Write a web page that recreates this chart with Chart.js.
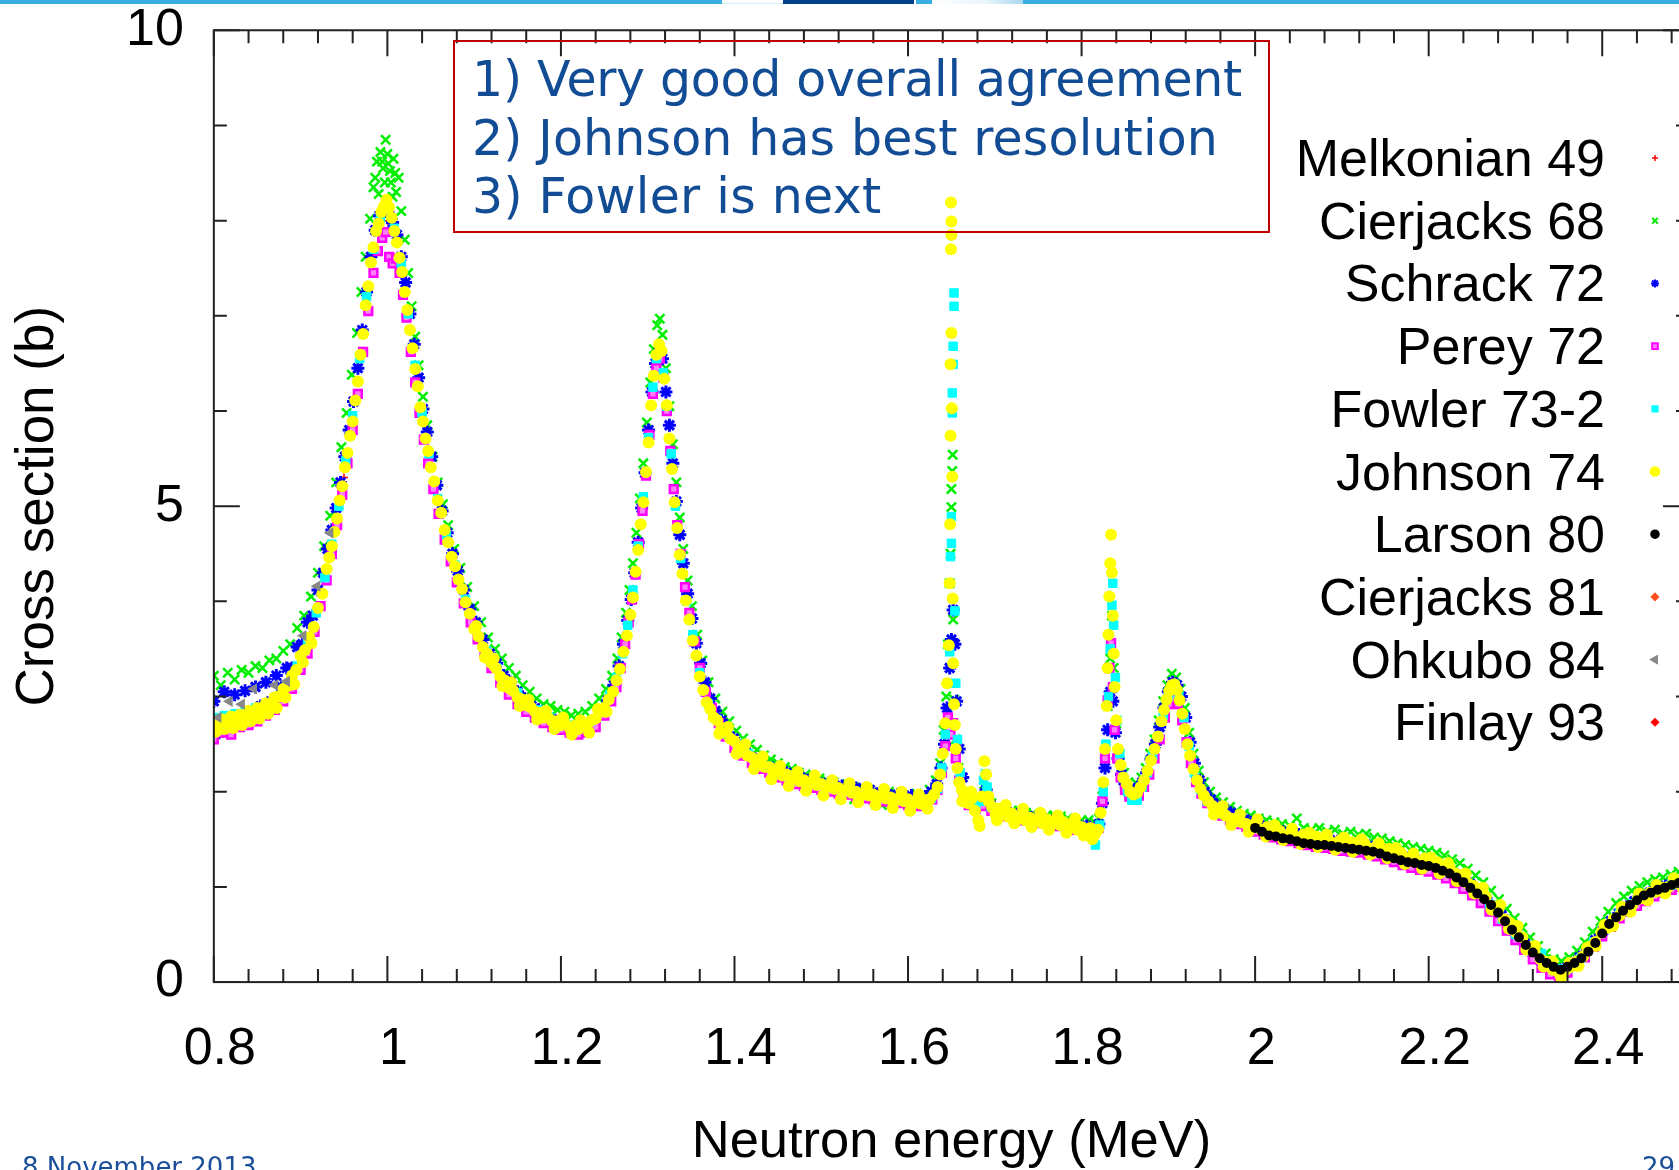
<!DOCTYPE html>
<html>
<head>
<meta charset="utf-8">
<title>Total cross section</title>
<script src="https://cdn.jsdelivr.net/npm/chart.js@4.4.0/dist/chart.umd.min.js"></script>
<style>
  html, body { margin: 0; padding: 0; background: #fff; overflow: hidden; }
  #page { position: relative; width: 1679px; height: 1170px; overflow: hidden; background: #fff; }
  #chart { position: absolute; left: 0; top: 0; }
  .bar { position: absolute; top: 0; height: 4px; }
  #note { position: absolute; left: 453px; top: 40px; width: 817px; height: 193px; box-sizing: border-box; border: 2px solid #c00000; }
  .line { position: absolute; left: 17px; font-family: "DejaVu Sans", Verdana, sans-serif; font-size: 49px; line-height: 58px; color: #124c94; white-space: nowrap; }
  .foot { position: absolute; top: 1154px; font-family: "DejaVu Sans", Verdana, sans-serif; font-size: 26px; line-height: 26px; color: #1b4f9a; white-space: nowrap; }
</style>
</head>
<body>
<div id="page">
  <canvas id="chart" width="1700" height="1200"></canvas>

  <div class="bar" style="left:0;width:722px;background:#3aaee0"></div>
  <div class="bar" style="left:722px;width:61px;background:linear-gradient(#fff 55%,#cdeaf7)"></div>
  <div class="bar" style="left:783px;width:131px;background:#00418e"></div>
  <div class="bar" style="left:916px;width:16px;background:#3aaee0"></div>
  <div class="bar" style="left:932px;width:91px;background:linear-gradient(to right,#fff,#e8f5fb 60%,#a8d9ef)"></div>
  <div class="bar" style="left:1023px;width:656px;background:#3aaee0"></div>

  <div id="note">
    <div class="line" style="top:9px;letter-spacing:-0.3px">1) Very good overall agreement</div>
    <div class="line" style="top:68px;letter-spacing:0.15px">2) Johnson has best resolution</div>
    <div class="line" style="top:126px;letter-spacing:0.25px">3) Fowler is next</div>
  </div>

  <div class="foot" style="left:22px">8 November 2013</div>
  <div class="foot" style="left:1642px">29</div>
</div>

<script>
var FONT = '"Liberation Sans", Arial, sans-serif';

// axis ticks
var xTickValues = [0.8, 1.0, 1.2, 1.4, 1.6, 1.8, 2.0, 2.2, 2.4];
var xTickText = ['0.8', '1', '1.2', '1.4', '1.6', '1.8', '2', '2.2', '2.4'];
var yTickValues = [0, 5, 10];
var yTickText = ['0', '5', '10'];

// ---- data (neutron energy in MeV, cross section in b) ----
var melkonianE = [0.850, 0.950, 1.000, 1.050, 1.150, 1.310, 1.450, 1.600, 1.900, 2.100];
var melkonianS = [2.85, 5.30, 8.00, 5.40, 3.00, 6.50, 2.20, 1.90, 3.00, 1.44];

var cierjacks68E = [
  0.800,0.808,0.816,0.824,0.832,0.840,0.848,0.856,0.864,0.872,
  0.880,0.888,0.896,0.904,0.912,0.920,0.927,0.934,0.941,0.947,
  0.953,0.959,0.965,0.970,0.975,0.980,0.984,0.988,0.992,0.995,
  0.998,1.001,1.004,1.007,1.010,1.013,1.016,1.020,1.024,1.028,
  1.032,1.036,1.041,1.046,1.052,1.058,1.064,1.070,1.077,1.084,
  1.092,1.100,1.108,1.116,1.124,1.132,1.140,1.148,1.156,1.164,
  1.172,1.180,1.188,1.196,1.204,1.212,1.220,1.228,1.236,1.244,
  1.252,1.259,1.265,1.270,1.275,1.279,1.283,1.287,1.291,1.295,
  1.299,1.303,1.307,1.311,1.314,1.317,1.321,1.325,1.329,1.333,
  1.337,1.341,1.346,1.351,1.357,1.363,1.370,1.378,1.386,1.394,
  1.402,1.410,1.418,1.426,1.434,1.442,1.450,1.458,1.466,1.474,
  1.482,1.490,1.498,1.506,1.514,1.522,1.530,1.538,1.546,1.554,
  1.562,1.570,1.578,1.586,1.594,1.602,1.610,1.618,1.625,1.632,
  1.637,1.641,1.644,1.646,1.648,1.649,1.650,1.650,1.651,1.6515,
  1.652,1.653,1.655,1.658,1.662,1.667,1.673,1.680,1.688,1.696,
  1.704,1.712,1.720,1.728,1.736,1.744,1.752,1.760,1.768,1.776,
  1.784,1.792,1.800,1.808,1.815,1.820,1.824,1.827,1.830,1.833,
  1.835,1.837,1.840,1.844,1.849,1.854,1.859,1.864,1.869,1.874,
  1.879,1.884,1.889,1.894,1.899,1.904,1.909,1.914,1.919,1.924,
  1.929,1.935,1.941,1.948,1.955,1.963,1.971,1.979,1.987,1.995,
  2.004,2.013,2.022,2.031,2.040,2.048,2.056,2.065,2.074,2.083,
  2.092,2.101,2.110,2.119,2.128,2.137,2.146,2.155,2.164,2.173,
  2.182,2.191,2.200,2.209,2.218,2.227,2.236,2.245,2.254,2.263,
  2.272,2.281,2.290,2.299,2.308,2.317,2.326,2.335,2.344,2.353,
  2.362,2.371,2.380,2.389,2.398,2.407,2.416,2.425,2.434,2.443,
  2.452,2.461,2.470,2.479,2.488,2.497,
  0.986,0.990,0.994,0.997,1.000,1.003,1.006,1.009
];
var cierjacks68S = [
  3.22,3.12,3.25,3.18,3.28,3.25,3.32,3.30,3.38,3.40,
  3.48,3.55,3.72,3.85,4.05,4.30,4.58,4.90,5.25,5.62,
  5.98,6.38,6.82,7.25,7.62,8.02,8.35,8.62,8.72,8.55,
  8.85,8.60,8.40,8.65,8.30,8.45,8.10,7.80,7.45,7.10,
  6.78,6.48,6.15,5.85,5.52,5.25,5.02,4.80,4.55,4.35,
  4.15,3.95,3.78,3.62,3.50,3.40,3.30,3.22,3.12,3.05,
  2.98,2.92,2.90,2.86,2.84,2.80,2.82,2.84,2.90,2.98,
  3.08,3.22,3.40,3.62,3.88,4.12,4.40,4.72,5.08,5.45,
  5.88,6.30,6.65,6.90,6.97,6.80,6.45,6.05,5.65,5.25,
  4.88,4.55,4.22,3.95,3.65,3.38,3.15,2.98,2.84,2.74,
  2.64,2.56,2.50,2.44,2.38,2.34,2.30,2.26,2.24,2.20,
  2.18,2.15,2.14,2.12,2.10,2.05,2.08,1.92,2.05,2.02,
  1.98,1.86,2.00,1.98,1.97,1.96,1.98,1.97,2.02,2.12,
  2.30,2.65,3.00,3.55,4.19,4.50,4.99,5.18,5.37,5.54,
  3.81,2.97,2.55,2.25,2.08,1.98,1.94,1.90,2.00,1.88,
  1.84,1.82,1.80,1.80,1.78,1.77,1.76,1.75,1.75,1.74,
  1.72,1.71,1.70,1.70,1.68,1.72,1.95,2.40,2.90,3.40,
  3.85,3.30,2.72,2.40,2.20,2.10,2.06,2.08,2.15,2.25,
  2.40,2.55,2.75,2.95,3.12,3.24,3.20,3.08,2.88,2.62,
  2.40,2.22,2.10,2.00,1.94,1.89,1.84,1.80,1.77,1.75,
  1.72,1.70,1.68,1.66,1.64,1.72,1.62,1.60,1.62,1.58,
  1.60,1.56,1.58,1.55,1.56,1.52,1.51,1.48,1.46,1.44,
  1.42,1.40,1.38,1.36,1.33,1.29,1.25,1.19,1.12,1.05,
  0.96,0.87,0.77,0.67,0.57,0.47,0.38,0.30,0.24,0.22,
  0.26,0.33,0.42,0.53,0.64,0.74,0.83,0.90,0.96,1.01,
  1.05,1.08,1.10,1.13,1.16,1.18,
  8.45,8.28,8.62,8.40,8.70,8.52,8.25,8.50
];

var schrackE = [
  0.800,0.806,0.812,0.818,0.824,0.830,0.836,0.842,0.848,0.854,
  0.860,0.866,0.872,0.878,0.884,0.890,0.896,0.902,0.908,0.914,
  0.920,0.926,0.931,0.936,0.941,0.946,0.951,0.956,0.961,0.966,
  0.971,0.976,0.981,0.986,0.991,0.996,1.001,1.006,1.011,1.016,
  1.021,1.026,1.031,1.036,1.041,1.046,1.051,1.057,1.063,1.069,
  1.075,1.081,1.088,1.095,1.102,1.110,1.118,1.126,1.134,1.142,
  1.150,1.158,1.166,1.174,1.182,1.190,1.198,1.206,1.214,1.222,
  1.230,1.238,1.246,1.254,1.261,1.267,1.272,1.277,1.281,1.285,
  1.289,1.293,1.297,1.301,1.305,1.309,1.313,1.317,1.321,1.325,
  1.329,1.333,1.337,1.341,1.346,1.351,1.356,1.361,1.366,1.372,
  1.378,1.385,1.392,1.399,1.406,1.413,1.420,1.428,1.436,1.444,
  1.452,1.460,1.468,1.476,1.484,1.492,1.500,1.508,1.516,1.524,
  1.532,1.540,1.548,1.556,1.564,1.572,1.580,1.588,1.596,1.604,
  1.612,1.620,1.627,1.633,1.638,1.642,1.645,1.648,1.650,1.652,
  1.654,1.656,1.659,1.663,1.668,1.674,1.680,1.686,1.690,1.695,
  1.702,1.710,1.718,1.726,1.734,1.742,1.750,1.758,1.766,1.774,
  1.782,1.790,1.798,1.806,1.814,1.820,1.824,1.827,1.830,1.833,
  1.836,1.839,1.842,1.846,1.850,1.855,1.860,1.865,1.870,1.875,
  1.880,1.885,1.890,1.895,1.900,1.905,1.910,1.915,1.920,1.925,
  1.930,1.936,1.942,1.949,1.956,1.964,1.972,1.980,1.988,1.996,
  2.005,2.014,2.023,2.032,2.041,2.050,2.059,2.068,2.077,2.086,
  2.095,2.104,2.113,2.122,2.131,2.140,2.149,2.158,2.167,2.176,
  2.185,2.194,2.203,2.212,2.221,2.230,2.239,2.248,2.257,2.266,
  2.275,2.284,2.293,2.302,2.311,2.320,2.329,2.338,2.347,2.356,
  2.365,2.374,2.383,2.392,2.401,2.410,2.419,2.428,2.437,2.446,
  2.455,2.464,2.473,2.482,2.491,2.500
];
var schrackS = [
  2.95,2.62,3.05,2.70,3.02,2.78,3.06,2.82,3.10,2.90,
  3.15,2.95,3.22,3.10,3.30,3.30,3.52,3.55,3.78,3.85,
  4.12,4.30,4.55,4.75,4.98,5.25,5.52,5.80,6.10,6.45,
  6.85,7.25,7.62,7.90,8.05,8.12,8.08,7.98,7.85,7.62,
  7.35,7.02,6.70,6.35,6.02,5.78,5.52,5.22,4.95,4.72,
  4.50,4.32,4.12,3.92,3.78,3.60,3.45,3.35,3.22,3.15,
  3.05,2.98,2.90,2.86,2.80,2.76,2.72,2.66,2.62,2.63,
  2.68,2.74,2.84,2.96,3.12,3.32,3.55,3.80,4.02,4.30,
  4.62,4.98,5.35,5.80,6.20,6.50,6.62,6.55,6.20,5.85,
  5.45,5.05,4.70,4.40,4.08,3.82,3.56,3.35,3.15,2.98,
  2.85,2.75,2.62,2.56,2.48,2.42,2.36,2.33,2.27,2.25,
  2.21,2.20,2.16,2.15,2.12,2.12,2.08,2.09,2.05,2.06,
  2.02,2.04,2.00,2.02,1.98,1.99,1.96,1.97,1.94,1.96,
  1.93,1.95,2.00,2.08,2.25,2.50,2.88,3.30,3.60,3.91,
  3.55,2.95,2.45,2.15,1.98,1.90,1.86,1.92,2.02,1.86,
  1.80,1.79,1.77,1.76,1.74,1.73,1.72,1.71,1.69,1.69,
  1.66,1.67,1.64,1.64,1.60,1.66,1.88,2.25,2.65,3.05,
  2.95,2.62,2.35,2.18,2.08,2.02,2.00,2.04,2.10,2.20,
  2.34,2.50,2.68,2.88,3.05,3.15,3.12,3.00,2.78,2.52,
  2.30,2.12,2.00,1.92,1.86,1.82,1.78,1.74,1.71,1.68,
  1.65,1.62,1.60,1.58,1.57,1.55,1.53,1.52,1.50,1.49,
  1.48,1.47,1.46,1.44,1.43,1.41,1.38,1.36,1.33,1.30,
  1.28,1.26,1.24,1.21,1.18,1.14,1.09,1.03,0.96,0.88,
  0.79,0.70,0.60,0.50,0.40,0.31,0.23,0.17,0.13,0.14,
  0.19,0.26,0.34,0.44,0.54,0.64,0.72,0.79,0.85,0.90,
  0.94,0.98,1.01,1.04,1.07,1.09
];

var pereyE = [
  0.800,0.810,0.820,0.830,0.840,0.850,0.860,0.870,0.880,0.890,
  0.900,0.908,0.916,0.923,0.930,0.936,0.942,0.948,0.954,0.960,
  0.966,0.972,0.978,0.984,0.989,0.994,0.998,1.002,1.006,1.010,
  1.014,1.018,1.022,1.027,1.032,1.037,1.042,1.047,1.053,1.059,
  1.066,1.073,1.080,1.088,1.096,1.104,1.112,1.120,1.130,1.140,
  1.150,1.160,1.170,1.180,1.190,1.200,1.210,1.220,1.230,1.240,
  1.250,1.258,1.264,1.269,1.274,1.278,1.282,1.286,1.290,1.294,
  1.298,1.302,1.306,1.310,1.314,1.318,1.322,1.326,1.330,1.334,
  1.338,1.343,1.348,1.354,1.360,1.367,1.374,1.382,1.390,1.400,
  1.410,1.420,1.430,1.440,1.450,1.460,1.470,1.480,1.490,1.500,
  1.510,1.520,1.530,1.540,1.550,1.560,1.570,1.580,1.590,1.600,
  1.610,1.620,1.628,1.634,1.639,1.643,1.646,1.649,1.652,1.655,
  1.659,1.664,1.670,1.678,1.686,1.690,1.696,1.705,1.715,1.725,
  1.735,1.745,1.755,1.765,1.775,1.785,1.795,1.805,1.813,1.820,
  1.824,1.827,1.830,1.832,1.834,1.836,1.838,1.841,1.845,1.850,
  1.855,1.860,1.866,1.872,1.878,1.884,1.890,1.896,1.901,1.906,
  1.911,1.916,1.921,1.926,1.932,1.938,1.945,1.953,1.962,1.971,
  1.980,1.990,2.000,2.010,2.020,2.030,2.040,2.050,2.060,2.070,
  2.080,2.090,2.100,2.110,2.120,2.130,2.140,2.150,2.160,2.170,
  2.180,2.190,2.200,2.210,2.220,2.230,2.240,2.250,2.260,2.270,
  2.280,2.290,2.300,2.310,2.320,2.330,2.340,2.350,2.360,2.370,
  2.380,2.390,2.400,2.410,2.420,2.430,2.440,2.450,2.460,2.470,
  2.480,2.490,2.500
];
var pereyS = [
  2.55,2.62,2.60,2.68,2.70,2.74,2.80,2.86,2.95,3.08,
  3.28,3.45,3.68,3.95,4.22,4.50,4.80,5.12,5.45,5.80,
  6.18,6.62,7.05,7.45,7.68,7.82,7.88,7.62,7.55,7.60,
  7.45,7.22,6.98,6.62,6.30,5.98,5.70,5.45,5.18,4.92,
  4.65,4.42,4.20,3.98,3.78,3.60,3.45,3.30,3.15,3.02,
  2.92,2.84,2.78,2.72,2.68,2.65,2.62,2.60,2.62,2.68,
  2.80,2.95,3.10,3.30,3.55,3.78,4.02,4.28,4.60,4.95,
  5.32,5.75,6.18,6.45,6.55,6.35,6.00,5.58,5.18,4.80,
  4.50,4.15,3.88,3.58,3.30,3.05,2.88,2.72,2.58,2.46,
  2.38,2.30,2.24,2.20,2.15,2.12,2.08,2.06,2.04,2.02,
  2.00,1.98,1.97,1.95,1.93,1.92,1.90,1.89,1.88,1.86,
  1.85,1.87,1.92,2.02,2.20,2.48,2.78,2.60,2.72,2.35,
  2.12,1.95,1.86,1.82,1.85,1.95,1.80,1.76,1.74,1.72,
  1.70,1.68,1.67,1.65,1.64,1.62,1.60,1.58,1.56,1.62,
  1.90,2.35,2.96,3.30,3.56,3.10,2.65,2.35,2.15,2.02,
  1.95,1.93,1.96,2.05,2.18,2.35,2.55,2.78,2.92,2.98,
  2.92,2.75,2.52,2.30,2.10,1.98,1.88,1.81,1.75,1.70,
  1.66,1.63,1.58,1.55,1.52,1.50,1.48,1.46,1.44,1.42,
  1.41,1.40,1.38,1.37,1.36,1.34,1.32,1.29,1.26,1.23,
  1.20,1.18,1.16,1.13,1.09,1.04,0.98,0.91,0.83,0.74,
  0.64,0.54,0.44,0.34,0.24,0.15,0.08,0.05,0.10,0.17,
  0.26,0.37,0.48,0.58,0.67,0.74,0.80,0.85,0.90,0.94,
  0.97,1.00,1.02
];

var fowlerE = [
  0.800,0.812,0.824,0.836,0.848,0.860,0.872,0.884,0.896,0.908,
  0.918,0.928,0.936,0.944,0.952,0.960,0.968,0.976,0.984,0.992,
  1.000,1.008,1.016,1.024,1.032,1.040,1.048,1.058,1.068,1.078,
  1.090,1.102,1.114,1.126,1.138,1.150,1.162,1.174,1.186,1.198,
  1.210,1.222,1.234,1.246,1.256,1.264,1.271,1.277,1.283,1.289,
  1.295,1.301,1.306,1.310,1.314,1.318,1.322,1.327,1.332,1.338,
  1.345,1.352,1.360,1.370,1.380,1.392,1.404,1.416,1.428,1.440,
  1.452,1.464,1.476,1.488,1.500,1.512,1.524,1.536,1.548,1.560,
  1.572,1.584,1.596,1.608,1.618,1.627,1.634,1.639,1.643,1.646,
  1.648,1.649,1.650,1.650,1.651,1.651,1.652,1.652,1.653,1.653,
  1.654,1.655,1.657,1.660,1.664,1.670,1.678,1.684,1.687,1.689,
  1.691,1.696,1.705,1.716,1.728,1.740,1.752,1.764,1.776,1.788,
  1.800,1.810,1.816,1.821,1.825,1.828,1.831,1.833,1.835,1.836,
  1.837,1.839,1.841,1.844,1.848,1.853,1.858,1.864,1.870,1.876,
  1.882,1.888,1.894,1.900,1.906,1.912,1.918,1.924,1.930,1.937,
  1.945,1.954,1.964,1.975,1.987,2.000,2.015,2.030,2.045,2.060,
  2.075,2.090,2.105,2.120,2.135,2.150,2.165,2.180,2.195,2.210,
  2.225,2.240,2.255,2.270,2.285,2.300,2.315,2.330,2.340,2.350,
  2.360,2.375,2.390,2.405,2.420,2.435,2.450,2.465,2.480,2.495
];
var fowlerS = [
  2.78,2.80,2.82,2.84,2.88,2.92,3.00,3.12,3.32,3.58,
  3.88,4.25,4.60,5.00,5.48,5.95,6.55,7.20,7.70,8.02,
  8.12,7.92,7.55,7.02,6.48,5.98,5.55,5.08,4.70,4.38,
  4.02,3.72,3.48,3.30,3.15,3.04,2.94,2.86,2.79,2.74,
  2.70,2.69,2.74,2.86,3.02,3.20,3.45,3.75,4.12,4.58,
  5.10,5.72,6.25,6.55,6.65,6.40,6.05,5.55,5.00,4.45,
  4.00,3.65,3.25,2.92,2.76,2.60,2.50,2.40,2.32,2.26,
  2.21,2.17,2.13,2.10,2.08,2.05,2.02,2.00,1.98,1.96,
  1.94,1.93,1.91,1.90,1.89,1.93,2.03,2.25,2.60,3.14,
  3.47,4.47,4.61,4.89,5.98,6.19,6.49,6.68,7.10,7.24,
  3.90,3.14,2.55,2.20,2.00,1.90,1.84,1.90,2.12,2.19,
  2.05,1.84,1.79,1.75,1.74,1.71,1.70,1.68,1.67,1.65,
  1.63,1.60,1.44,1.65,2.00,2.50,3.00,3.50,3.96,4.19,
  3.75,3.20,2.75,2.40,2.15,2.00,1.91,1.91,2.05,2.20,
  2.38,2.58,2.80,3.00,3.10,3.02,2.78,2.48,2.20,2.02,
  1.90,1.82,1.76,1.71,1.67,1.63,1.59,1.56,1.53,1.50,
  1.48,1.46,1.44,1.42,1.40,1.37,1.33,1.29,1.26,1.22,
  1.17,1.08,0.95,0.82,0.66,0.50,0.36,0.30,0.22,0.14,
  0.14,0.25,0.42,0.58,0.72,0.82,0.90,0.97,1.02,1.07
];

var johnsonE = [
  0.800,0.805,0.810,0.815,0.820,0.825,0.830,0.835,0.840,0.845,
  0.850,0.855,0.860,0.865,0.870,0.875,0.880,0.885,0.890,0.895,
  0.900,0.905,0.910,0.915,0.920,0.925,0.930,0.933,0.936,0.939,
  0.942,0.945,0.948,0.951,0.954,0.957,0.960,0.963,0.966,0.969,
  0.972,0.975,0.978,0.981,0.984,0.987,0.990,0.993,0.996,0.999,
  1.002,1.005,1.008,1.011,1.014,1.017,1.020,1.023,1.026,1.029,
  1.032,1.035,1.038,1.041,1.044,1.047,1.050,1.054,1.058,1.062,
  1.066,1.070,1.074,1.078,1.082,1.086,1.090,1.095,1.100,1.105,
  1.110,1.115,1.120,1.125,1.130,1.135,1.140,1.145,1.150,1.155,
  1.160,1.165,1.170,1.175,1.180,1.185,1.190,1.195,1.200,1.205,
  1.210,1.215,1.220,1.225,1.230,1.235,1.240,1.245,1.250,1.255,
  1.260,1.264,1.268,1.272,1.276,1.280,1.283,1.286,1.289,1.292,
  1.295,1.298,1.301,1.304,1.307,1.310,1.313,1.316,1.319,1.322,
  1.325,1.328,1.331,1.334,1.337,1.340,1.344,1.348,1.352,1.356,
  1.360,1.364,1.368,1.372,1.376,1.380,1.385,1.390,1.395,1.400,
  1.405,1.410,1.415,1.420,1.425,1.430,1.435,1.440,1.445,1.450,
  1.455,1.460,1.465,1.470,1.475,1.480,1.485,1.490,1.495,1.500,
  1.505,1.510,1.515,1.520,1.525,1.530,1.535,1.540,1.545,1.550,
  1.555,1.560,1.565,1.570,1.575,1.580,1.585,1.590,1.595,1.600,
  1.605,1.610,1.615,1.620,1.625,1.630,1.634,1.637,1.640,1.643,
  1.645,1.647,1.648,1.6485,1.649,1.649,1.6495,1.6495,1.650,1.650,
  1.650,1.6505,1.651,1.6515,1.652,1.653,1.654,1.655,1.657,1.659,
  1.662,1.665,1.669,1.673,1.677,1.681,1.685,1.688,1.690,1.693,
  1.697,1.701,1.705,1.710,1.715,1.720,1.725,1.730,1.735,1.740,
  1.745,1.750,1.755,1.760,1.765,1.770,1.775,1.780,1.785,1.790,
  1.795,1.800,1.805,1.810,1.815,1.819,1.822,1.825,1.827,1.829,
  1.830,1.831,1.832,1.833,1.834,1.835,1.836,1.837,1.838,1.840,
  1.842,1.845,1.848,1.852,1.856,1.860,1.864,1.868,1.872,1.876,
  1.880,1.884,1.888,1.892,1.895,1.898,1.901,1.904,1.907,1.910,
  1.913,1.916,1.919,1.922,1.925,1.929,1.933,1.937,1.941,1.946,
  1.951,1.956,1.961,1.966,1.972,1.978,1.984,1.990,1.995,2.000,
  2.007,2.014,2.021,2.028,2.035,2.042,2.049,2.056,2.063,2.070,
  2.077,2.084,2.091,2.098,2.105,2.112,2.119,2.126,2.133,2.140,
  2.147,2.154,2.161,2.168,2.175,2.182,2.189,2.196,2.203,2.210,
  2.217,2.224,2.231,2.238,2.245,2.252,2.259,2.266,2.273,2.280,
  2.287,2.294,2.301,2.308,2.315,2.322,2.329,2.336,2.343,2.350,
  2.357,2.364,2.371,2.378,2.385,2.392,2.399,2.406,2.413,2.420,
  2.427,2.434,2.441,2.448,2.455,2.462,2.469,2.476,2.483,2.490,
  2.497,
  // scatter of the high-resolution points around the mean curve
  0.8025,0.8125,0.8225,0.8325,0.8425,0.8525,0.8625,0.8725,0.8825,0.8925,
  0.9025,0.9125,
  1.1025,1.1125,1.1225,1.1325,1.1425,1.1525,1.1625,1.1725,1.1825,1.1925,
  1.2025,1.2125,1.2225,1.2325,1.2425,1.2525,
  1.3825,1.3925,1.4025,1.4125,1.4225,1.4325,1.4425,1.4525,1.4625,1.4725,
  1.4825,1.4925,1.5025,1.5125,1.5225,1.5325,1.5425,1.5525,1.5625,1.5725,
  1.5825,1.5925,1.6025,1.6125,1.6225,
  1.6625,1.6725,1.6825,1.6925,1.7025,1.7125,1.7225,1.7325,1.7425,1.7525,
  1.7625,1.7725,1.7825,1.7925,1.8025,1.8125,
  1.9525,1.9625,1.9725,1.9825,1.9925,2.0025,2.0125,2.0225,2.0325,2.0425,
  2.0525,2.0625,2.0725,2.0825,2.0925,2.1025,2.1125,2.1225,2.1325,2.1425,
  2.1525,2.1625,2.1725,2.1825,2.1925,2.2025,2.2125,2.2225,2.2325,2.2425,
  2.2525,2.2625,2.2725,2.2825,2.2925,2.3025,2.3125,2.3225,2.3325,2.3425,
  2.3525,2.3625,2.3725,2.3825,2.3925,2.4025,2.4125,2.4225,2.4325,2.4425,
  2.4525,2.4625,2.4725,2.4825,2.4925
];
var johnsonS = [
  2.74,2.68,2.76,2.71,2.79,2.74,2.81,2.78,2.85,2.81,
  2.88,2.86,2.93,2.90,2.99,3.00,3.08,3.11,3.22,3.28,
  3.43,3.49,3.62,3.73,3.93,4.08,4.34,4.46,4.58,4.73,
  4.87,5.06,5.21,5.41,5.56,5.74,5.89,6.11,6.31,6.59,
  6.81,7.11,7.31,7.56,7.72,7.89,7.97,8.09,8.15,8.22,
  8.14,8.03,7.89,7.77,7.61,7.46,7.25,7.06,6.85,6.66,
  6.44,6.26,6.04,5.89,5.71,5.58,5.41,5.26,5.06,4.93,
  4.75,4.62,4.47,4.37,4.23,4.13,3.99,3.87,3.71,3.63,
  3.52,3.45,3.35,3.30,3.21,3.17,3.09,3.06,2.99,2.97,
  2.91,2.89,2.84,2.83,2.78,2.78,2.74,2.74,2.70,2.71,
  2.67,2.69,2.66,2.70,2.69,2.75,2.77,2.84,2.88,2.97,
  3.05,3.17,3.29,3.47,3.64,3.86,4.04,4.31,4.54,4.81,
  5.04,5.36,5.67,6.06,6.37,6.59,6.70,6.63,6.34,6.06,
  5.71,5.39,5.04,4.77,4.49,4.29,4.01,3.81,3.59,3.43,
  3.21,3.07,2.94,2.87,2.78,2.75,2.67,2.63,2.56,2.53,
  2.47,2.45,2.38,2.36,2.31,2.31,2.26,2.26,2.21,2.21,
  2.17,2.18,2.14,2.15,2.11,2.12,2.09,2.10,2.07,2.08,
  2.05,2.06,2.03,2.04,2.01,2.02,1.99,2.00,1.97,1.98,
  1.96,1.97,1.94,1.96,1.93,1.94,1.91,1.93,1.90,1.92,
  1.88,1.90,1.87,1.91,1.92,1.97,2.05,2.18,2.40,2.72,
  3.14,3.54,4.19,4.81,5.74,6.49,7.70,8.19,7.99,7.85,
  6.82,6.03,5.31,4.03,3.35,2.92,2.70,2.45,2.25,2.10,
  2.02,1.96,1.88,1.92,1.80,1.70,1.95,2.32,2.18,1.90,
  1.84,1.76,1.82,1.78,1.74,1.77,1.72,1.75,1.70,1.73,
  1.69,1.72,1.67,1.71,1.66,1.69,1.65,1.68,1.62,1.66,
  1.60,1.63,1.57,1.62,1.55,1.60,1.78,2.10,2.45,2.90,
  3.30,3.65,4.05,4.40,4.70,4.30,3.85,3.45,3.10,2.75,
  2.45,2.28,2.15,2.08,2.00,1.97,1.99,2.05,2.12,2.22,
  2.33,2.45,2.58,2.74,2.86,2.97,3.06,3.12,3.13,3.07,
  2.96,2.82,2.66,2.50,2.38,2.24,2.12,2.03,1.96,1.90,
  1.85,1.81,1.78,1.75,1.72,1.70,1.68,1.66,1.64,1.66,
  1.60,1.63,1.56,1.59,1.54,1.58,1.52,1.55,1.50,1.53,
  1.47,1.50,1.46,1.49,1.44,1.47,1.42,1.46,1.40,1.43,
  1.37,1.40,1.33,1.36,1.30,1.33,1.27,1.30,1.24,1.26,
  1.20,1.21,1.14,1.12,1.04,1.01,0.93,0.90,0.80,0.76,
  0.66,0.62,0.52,0.47,0.37,0.33,0.24,0.21,0.13,0.10,
  0.12,0.16,0.22,0.27,0.37,0.42,0.52,0.57,0.66,0.70,
  0.78,0.80,0.87,0.88,0.94,0.95,0.99,1.00,1.04,1.04,
  1.08,
  2.63,2.66,2.67,2.70,2.74,2.77,2.82,2.88,2.99,3.13,
  3.36,3.56,
  3.74,3.41,3.40,3.11,3.15,2.90,2.97,2.76,2.85,2.66,
  2.78,2.60,2.75,2.62,2.87,2.84,
  2.61,2.68,2.40,2.50,2.24,2.37,2.13,2.27,2.06,2.21,
  2.01,2.17,1.96,2.12,1.92,2.09,1.89,2.05,1.86,2.03,
  1.83,2.00,1.80,1.97,1.82,
  1.90,2.00,1.64,1.95,1.70,1.86,1.67,1.82,1.63,1.78,
  1.60,1.75,1.57,1.72,1.54,1.50,
  1.76,1.85,1.65,1.76,1.58,1.71,1.53,1.65,1.49,1.61,
  1.45,1.57,1.42,1.55,1.39,1.52,1.37,1.50,1.34,1.46,
  1.30,1.41,1.24,1.35,1.19,1.31,1.14,1.25,1.06,1.14,
  0.93,0.99,0.76,0.81,0.56,0.59,0.34,0.38,0.16,0.22,
  0.05,0.20,0.17,0.36,0.38,0.60,0.59,0.79,0.74,0.93,
  0.86,1.02,0.93,1.09,0.99
];

var larsonE = [
  2.000,2.008,2.016,2.024,2.032,2.040,2.048,2.056,2.064,2.072,
  2.080,2.088,2.096,2.104,2.112,2.120,2.128,2.136,2.144,2.152,
  2.160,2.168,2.176,2.184,2.192,2.200,2.208,2.216,2.224,2.232,
  2.240,2.248,2.256,2.264,2.272,2.280,2.288,2.296,2.304,2.312,
  2.320,2.328,2.336,2.344,2.352,2.360,2.368,2.376,2.384,2.392,
  2.400,2.408,2.416,2.424,2.432,2.440,2.448,2.456,2.464,2.472,
  2.480,2.488,2.496
];
var larsonS = [
  1.62,1.58,1.54,1.53,1.51,1.50,1.48,1.46,1.45,1.44,
  1.44,1.43,1.42,1.41,1.40,1.39,1.38,1.37,1.35,1.32,
  1.30,1.28,1.26,1.25,1.23,1.22,1.20,1.17,1.14,1.10,
  1.05,0.99,0.93,0.87,0.81,0.73,0.64,0.55,0.47,0.39,
  0.31,0.25,0.20,0.16,0.13,0.16,0.20,0.25,0.32,0.41,
  0.51,0.61,0.68,0.75,0.81,0.86,0.91,0.94,0.97,0.99,
  1.02,1.04,1.06
];

var cierjacks81E = [2.050, 2.150, 2.250, 2.350, 2.450];
var cierjacks81S = [1.50, 1.35, 1.00, 0.12, 0.90];

var ohkuboE = [0.805, 0.818, 0.832, 0.846, 0.870, 0.884, 0.903, 0.919, 0.934];
var ohkuboS = [2.78, 2.95, 2.92, 3.08, 3.12, 3.16, 3.64, 4.16, 4.72];

var finlayE = [1.200, 1.500, 1.900, 2.200, 2.400];
var finlayS = [2.70, 2.06, 3.00, 1.22, 0.52];

// legend order = plot order of the original; "order" controls stacking (low = on top)
var series = [
  {label: 'Melkonian 49', e: melkonianE, s: melkonianS, style: 'cross', line: '#ff0000', fill: '#ff0000', r: 4, bw: 1.5, keyR: 3, order: 10},
  {label: 'Cierjacks 68', e: cierjacks68E, s: cierjacks68S, style: 'crossRot', line: '#00ee00', fill: '#00ee00', r: 6.5, bw: 2.5, keyR: 4, order: 7},
  {label: 'Schrack 72', e: schrackE, s: schrackS, style: 'star', line: '#0000ff', fill: '#0000ff', r: 6.5, bw: 3, keyR: 4, order: 6},
  {label: 'Perey 72', e: pereyE, s: pereyS, style: 'rect', line: '#ff00ff', fill: '#ff80ff', r: 5.5, bw: 2.5, keyR: 4, order: 5},
  {label: 'Fowler 73-2', e: fowlerE, s: fowlerS, style: 'rect', line: '#00ffff', fill: '#00ffff', r: 6, bw: 1, keyR: 4, order: 4},
  {label: 'Johnson 74', e: johnsonE, s: johnsonS, style: 'circle', line: '#ffff00', fill: '#ffff00', r: 6, bw: 0, keyR: 4.5, order: 3},
  {label: 'Larson 80', e: larsonE, s: larsonS, style: 'circle', line: '#000000', fill: '#000000', r: 5, bw: 0, keyR: 4, order: 2},
  {label: 'Cierjacks 81', e: cierjacks81E, s: cierjacks81S, style: 'rectRot', line: '#ff5020', fill: '#ff5020', r: 3.5, bw: 1, keyR: 3.5, order: 9},
  {label: 'Ohkubo 84', e: ohkuboE, s: ohkuboS, style: 'triangle', rot: -90, line: '#888888', fill: '#888888', r: 6.5, bw: 0, keyR: 4.5, order: 1},
  {label: 'Finlay 93', e: finlayE, s: finlayS, style: 'rectRot', line: '#ff0000', fill: '#ff0000', r: 3.5, bw: 1, keyR: 3.5, order: 8}
];

function toPoints(e, s) {
  return e.map(function (v, i) { return {x: v, y: s[i]}; });
}

// gnuplot style border with inward ticks on all four sides
var framePlugin = {
  id: 'frame',
  afterDatasetsDraw: function (chart) {
    var ctx = chart.ctx, a = chart.chartArea, x = chart.scales.x, y = chart.scales.y;
    ctx.save();
    ctx.strokeStyle = '#222';
    ctx.lineWidth = 2;
    ctx.beginPath();
    for (var k = 0; k <= 42; k++) {
      var px = x.getPixelForValue(0.8 + k * 0.04);
      var lx = (k % 5 === 0) ? 26 : 13;
      ctx.moveTo(px, a.bottom); ctx.lineTo(px, a.bottom - lx);
      ctx.moveTo(px, a.top); ctx.lineTo(px, a.top + lx);
    }
    for (var v = 0; v <= 10; v++) {
      var py = y.getPixelForValue(v);
      var ly = (v % 5 === 0) ? 26 : 13;
      ctx.moveTo(a.left, py); ctx.lineTo(a.left + ly, py);
      ctx.moveTo(a.right, py); ctx.lineTo(a.right - ly, py);
    }
    ctx.stroke();
    ctx.strokeRect(a.left, a.top, a.right - a.left, a.bottom - a.top);
    ctx.restore();
  }
};

// key inside the plot: right aligned names, symbol to the right
var keyPlugin = {
  id: 'key',
  afterDraw: function (chart) {
    var ctx = chart.ctx;
    ctx.save();
    ctx.font = '52px ' + FONT;
    ctx.textAlign = 'right';
    ctx.textBaseline = 'alphabetic';
    series.forEach(function (d, i) {
      var base = 176 + i * 62.7;
      ctx.fillStyle = '#000';
      ctx.fillText(d.label, 1605, base);
      ctx.fillStyle = d.fill;
      ctx.strokeStyle = d.line;
      ctx.lineWidth = Math.min(Math.max(d.bw, 1.5), 2);
      Chart.helpers.drawPoint(ctx, {pointStyle: d.style, radius: d.keyR, rotation: d.rot || 0, borderWidth: Math.max(d.bw, 1)}, 1655, base - 18);
    });
    ctx.restore();
  }
};

var chart = new Chart(document.getElementById('chart'), {
  type: 'scatter',
  data: {
    datasets: series.map(function (d) {
      return {
        label: d.label,
        data: toPoints(d.e, d.s),
        order: d.order,
        showLine: false,
        pointStyle: d.style,
        pointRotation: d.rot || 0,
        pointRadius: d.r,
        pointBorderWidth: d.bw,
        pointBorderColor: d.line,
        pointBackgroundColor: d.fill
      };
    })
  },
  options: {
    responsive: false,
    animation: false,
    events: [],
    layout: {autoPadding: false, padding: {left: 12, top: 30, right: 11, bottom: 31}},
    plugins: {legend: {display: false}, tooltip: {enabled: false}},
    scales: {
      x: {
        type: 'linear', min: 0.8, max: 2.5,
        afterBuildTicks: function (ax) { ax.ticks = xTickValues.map(function (v) { return {value: v}; }); },
        grid: {display: false, drawTicks: false},
        border: {display: false},
        ticks: {
          padding: 36, labelOffset: 6, color: '#000', autoSkip: false, maxRotation: 0,
          font: {size: 52, family: FONT},
          callback: function (v, i) { return xTickText[i]; }
        },
        title: {display: true, text: 'Neutron energy (MeV)', color: '#000', padding: 0, font: {size: 52.5, family: FONT, lineHeight: 1}}
      },
      y: {
        type: 'linear', min: 0, max: 10,
        afterBuildTicks: function (ax) { ax.ticks = yTickValues.map(function (v) { return {value: v}; }); },
        grid: {display: false, drawTicks: false},
        border: {display: false},
        ticks: {
          padding: 30, color: '#000', autoSkip: false,
          font: {size: 52, family: FONT, lineHeight: 0.01},
          callback: function (v, i) { return yTickText[i]; }
        },
        title: {display: true, text: 'Cross section (b)', color: '#000', padding: {top: 0, bottom: 31}, font: {size: 53, family: FONT, lineHeight: 1}}
      }
    }
  },
  plugins: [framePlugin, keyPlugin]
});
</script>
</body>
</html>
